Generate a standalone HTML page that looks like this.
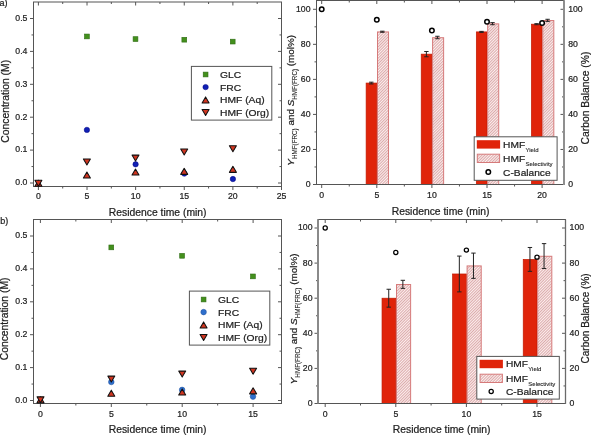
<!DOCTYPE html><html><head><meta charset="utf-8"><style>html,body{margin:0;padding:0;background:#fff;}svg{display:block;will-change:transform;} text{font-family:"Liberation Sans",sans-serif;fill:#222;stroke:#222;stroke-width:0.22px;}</style></head><body>
<svg width="591" height="435" viewBox="0 0 591 435">
<defs><pattern id="hatch" patternUnits="userSpaceOnUse" width="2" height="2" patternTransform="rotate(45)"><rect width="2" height="2" fill="#fdeeee"/><rect width="0.75" height="2" fill="#d09696"/></pattern></defs>
<rect width="591" height="435" fill="#fff"/>
<line x1="38.4" y1="186.5" x2="38.4" y2="190" stroke="#555" stroke-width="1.0"/>
<line x1="38.4" y1="2" x2="38.4" y2="5.5" stroke="#555" stroke-width="1.0"/>
<line x1="87.02" y1="186.5" x2="87.02" y2="190" stroke="#555" stroke-width="1.0"/>
<line x1="87.02" y1="2" x2="87.02" y2="5.5" stroke="#555" stroke-width="1.0"/>
<line x1="135.64" y1="186.5" x2="135.64" y2="190" stroke="#555" stroke-width="1.0"/>
<line x1="135.64" y1="2" x2="135.64" y2="5.5" stroke="#555" stroke-width="1.0"/>
<line x1="184.26" y1="186.5" x2="184.26" y2="190" stroke="#555" stroke-width="1.0"/>
<line x1="184.26" y1="2" x2="184.26" y2="5.5" stroke="#555" stroke-width="1.0"/>
<line x1="232.88" y1="186.5" x2="232.88" y2="190" stroke="#555" stroke-width="1.0"/>
<line x1="232.88" y1="2" x2="232.88" y2="5.5" stroke="#555" stroke-width="1.0"/>
<line x1="281.5" y1="186.5" x2="281.5" y2="190" stroke="#555" stroke-width="1.0"/>
<line x1="281.5" y1="2" x2="281.5" y2="5.5" stroke="#555" stroke-width="1.0"/>
<line x1="62.71" y1="186.5" x2="62.71" y2="188.5" stroke="#555" stroke-width="1.0"/>
<line x1="62.71" y1="2" x2="62.71" y2="4" stroke="#555" stroke-width="1.0"/>
<line x1="111.33" y1="186.5" x2="111.33" y2="188.5" stroke="#555" stroke-width="1.0"/>
<line x1="111.33" y1="2" x2="111.33" y2="4" stroke="#555" stroke-width="1.0"/>
<line x1="159.95" y1="186.5" x2="159.95" y2="188.5" stroke="#555" stroke-width="1.0"/>
<line x1="159.95" y1="2" x2="159.95" y2="4" stroke="#555" stroke-width="1.0"/>
<line x1="208.57" y1="186.5" x2="208.57" y2="188.5" stroke="#555" stroke-width="1.0"/>
<line x1="208.57" y1="2" x2="208.57" y2="4" stroke="#555" stroke-width="1.0"/>
<line x1="257.19" y1="186.5" x2="257.19" y2="188.5" stroke="#555" stroke-width="1.0"/>
<line x1="257.19" y1="2" x2="257.19" y2="4" stroke="#555" stroke-width="1.0"/>
<line x1="30" y1="183" x2="33.5" y2="183" stroke="#555" stroke-width="1.0"/>
<line x1="278" y1="183" x2="281.5" y2="183" stroke="#555" stroke-width="1.0"/>
<line x1="30" y1="150.1" x2="33.5" y2="150.1" stroke="#555" stroke-width="1.0"/>
<line x1="278" y1="150.1" x2="281.5" y2="150.1" stroke="#555" stroke-width="1.0"/>
<line x1="30" y1="117.2" x2="33.5" y2="117.2" stroke="#555" stroke-width="1.0"/>
<line x1="278" y1="117.2" x2="281.5" y2="117.2" stroke="#555" stroke-width="1.0"/>
<line x1="30" y1="84.3" x2="33.5" y2="84.3" stroke="#555" stroke-width="1.0"/>
<line x1="278" y1="84.3" x2="281.5" y2="84.3" stroke="#555" stroke-width="1.0"/>
<line x1="30" y1="51.4" x2="33.5" y2="51.4" stroke="#555" stroke-width="1.0"/>
<line x1="278" y1="51.4" x2="281.5" y2="51.4" stroke="#555" stroke-width="1.0"/>
<line x1="30" y1="18.5" x2="33.5" y2="18.5" stroke="#555" stroke-width="1.0"/>
<line x1="278" y1="18.5" x2="281.5" y2="18.5" stroke="#555" stroke-width="1.0"/>
<line x1="31.5" y1="166.55" x2="33.5" y2="166.55" stroke="#555" stroke-width="1.0"/>
<line x1="279.5" y1="166.55" x2="281.5" y2="166.55" stroke="#555" stroke-width="1.0"/>
<line x1="31.5" y1="133.65" x2="33.5" y2="133.65" stroke="#555" stroke-width="1.0"/>
<line x1="279.5" y1="133.65" x2="281.5" y2="133.65" stroke="#555" stroke-width="1.0"/>
<line x1="31.5" y1="100.75" x2="33.5" y2="100.75" stroke="#555" stroke-width="1.0"/>
<line x1="279.5" y1="100.75" x2="281.5" y2="100.75" stroke="#555" stroke-width="1.0"/>
<line x1="31.5" y1="67.85" x2="33.5" y2="67.85" stroke="#555" stroke-width="1.0"/>
<line x1="279.5" y1="67.85" x2="281.5" y2="67.85" stroke="#555" stroke-width="1.0"/>
<line x1="31.5" y1="34.95" x2="33.5" y2="34.95" stroke="#555" stroke-width="1.0"/>
<line x1="279.5" y1="34.95" x2="281.5" y2="34.95" stroke="#555" stroke-width="1.0"/>
<rect x="33.5" y="2" width="248" height="184.5" fill="none" stroke="#555" stroke-width="1"/>
<text x="38.4" y="198.7" font-size="8.7" text-anchor="middle" >0</text>
<text x="87.02" y="198.7" font-size="8.7" text-anchor="middle" >5</text>
<text x="135.64" y="198.7" font-size="8.7" text-anchor="middle" >10</text>
<text x="184.26" y="198.7" font-size="8.7" text-anchor="middle" >15</text>
<text x="232.88" y="198.7" font-size="8.7" text-anchor="middle" >20</text>
<text x="281.5" y="198.7" font-size="8.7" text-anchor="middle" >25</text>
<text x="27.4" y="185.3" font-size="8.7" text-anchor="end" >0.0</text>
<text x="27.4" y="152.4" font-size="8.7" text-anchor="end" >0.1</text>
<text x="27.4" y="119.5" font-size="8.7" text-anchor="end" >0.2</text>
<text x="27.4" y="86.6" font-size="8.7" text-anchor="end" >0.3</text>
<text x="27.4" y="53.7" font-size="8.7" text-anchor="end" >0.4</text>
<text x="27.4" y="20.8" font-size="8.7" text-anchor="end" >0.5</text>
<rect x="84.5" y="34.05" width="4.8" height="4.8" fill="#43901c" stroke="#2f6c14" stroke-width="0.6"/>
<rect x="133.1" y="36.7" width="4.8" height="4.8" fill="#43901c" stroke="#2f6c14" stroke-width="0.6"/>
<rect x="181.9" y="37.3" width="4.8" height="4.8" fill="#43901c" stroke="#2f6c14" stroke-width="0.6"/>
<rect x="230.3" y="39.2" width="4.8" height="4.8" fill="#43901c" stroke="#2f6c14" stroke-width="0.6"/>
<circle cx="86.9" cy="129.9" r="2.7" fill="#1020b4" stroke="#000080" stroke-width="0.5"/>
<circle cx="135.6" cy="164.3" r="2.7" fill="#1020b4" stroke="#000080" stroke-width="0.5"/>
<circle cx="184.3" cy="173.6" r="2.7" fill="#1020b4" stroke="#000080" stroke-width="0.5"/>
<circle cx="232.9" cy="179.05" r="2.7" fill="#1020b4" stroke="#000080" stroke-width="0.5"/>
<path d="M38.4 180.2 L41.9 186.2 L34.9 186.2 Z" fill="#d03520" stroke="#111" stroke-width="1.05" stroke-linejoin="round"/>
<path d="M86.9 171.95 L90.4 177.95 L83.4 177.95 Z" fill="#d03520" stroke="#111" stroke-width="1.05" stroke-linejoin="round"/>
<path d="M135.5 169.05 L139 175.05 L132 175.05 Z" fill="#d03520" stroke="#111" stroke-width="1.05" stroke-linejoin="round"/>
<path d="M184.2 168.35 L187.7 174.35 L180.7 174.35 Z" fill="#d03520" stroke="#111" stroke-width="1.05" stroke-linejoin="round"/>
<path d="M232.9 166.35 L236.4 172.35 L229.4 172.35 Z" fill="#d03520" stroke="#111" stroke-width="1.05" stroke-linejoin="round"/>
<path d="M34.9 180.2 L41.9 180.2 L38.4 186.2 Z" fill="#d03520" stroke="#111" stroke-width="1.05" stroke-linejoin="round"/>
<path d="M83.4 158.95 L90.4 158.95 L86.9 164.95 Z" fill="#d03520" stroke="#111" stroke-width="1.05" stroke-linejoin="round"/>
<path d="M132 155.1 L139 155.1 L135.5 161.1 Z" fill="#d03520" stroke="#111" stroke-width="1.05" stroke-linejoin="round"/>
<path d="M180.7 149.05 L187.7 149.05 L184.2 155.05 Z" fill="#d03520" stroke="#111" stroke-width="1.05" stroke-linejoin="round"/>
<path d="M229.4 145.8 L236.4 145.8 L232.9 151.8 Z" fill="#d03520" stroke="#111" stroke-width="1.05" stroke-linejoin="round"/>
<rect x="191.4" y="66.4" width="80.4" height="53.7" fill="#fff" stroke="#555" stroke-width="1"/>
<rect x="203.2" y="72.1" width="4.8" height="4.8" fill="#43901c" stroke="#2f6c14" stroke-width="0.6"/>
<circle cx="205.6" cy="87.1" r="2.7" fill="#1020b4" stroke="#000080" stroke-width="0.5"/>
<path d="M205.6 96.9 L209.1 102.9 L202.1 102.9 Z" fill="#d03520" stroke="#111" stroke-width="1.05" stroke-linejoin="round"/>
<path d="M202.1 109.5 L209.1 109.5 L205.6 115.5 Z" fill="#d03520" stroke="#111" stroke-width="1.05" stroke-linejoin="round"/>
<text transform="translate(220.0,77.9) scale(1.062,1)" font-size="9.7">GLC</text>
<text transform="translate(220.0,90.5) scale(1.062,1)" font-size="9.7">FRC</text>
<text transform="translate(220.0,103.3) scale(1.062,1)" font-size="9.7">HMF (Aq)</text>
<text transform="translate(220.0,115.9) scale(1.062,1)" font-size="9.7">HMF (Org)</text>
<text x="157.7" y="215.9" font-size="10.35" text-anchor="middle" >Residence time (min)</text>
<text transform="translate(8.9,101.3) rotate(-90)" x="0" y="0" font-size="10.35" text-anchor="middle">Concentration (M)</text>
<text x="-0.5" y="6.4" font-size="9.0" text-anchor="start" >a)</text>
<rect x="366.13" y="83.06" width="10.67" height="101.44" fill="#e0240a" stroke="#c01a00" stroke-width="0.7"/>
<rect x="377.5" y="31.93" width="11.02" height="152.57" fill="url(#hatch)" stroke="#d67a7a" stroke-width="1"/>
<rect x="421.23" y="54.15" width="10.67" height="130.35" fill="#e0240a" stroke="#c01a00" stroke-width="0.7"/>
<rect x="432.6" y="37.71" width="11.02" height="146.79" fill="url(#hatch)" stroke="#d67a7a" stroke-width="1"/>
<rect x="476.33" y="31.9" width="10.67" height="152.6" fill="#e0240a" stroke="#c01a00" stroke-width="0.7"/>
<rect x="487.7" y="23.87" width="11.02" height="160.63" fill="url(#hatch)" stroke="#d67a7a" stroke-width="1"/>
<rect x="531.43" y="24.19" width="10.67" height="160.31" fill="#e0240a" stroke="#c01a00" stroke-width="0.7"/>
<rect x="542.8" y="20.54" width="11.02" height="163.96" fill="url(#hatch)" stroke="#d67a7a" stroke-width="1"/>
<line x1="371.29" y1="82.18" x2="371.29" y2="83.94" stroke="#222" stroke-width="1"/>
<line x1="369.09" y1="82.18" x2="373.49" y2="82.18" stroke="#222" stroke-width="1"/>
<line x1="369.09" y1="83.94" x2="373.49" y2="83.94" stroke="#222" stroke-width="1"/>
<line x1="382.31" y1="31.2" x2="382.31" y2="32.25" stroke="#222" stroke-width="1"/>
<line x1="380.11" y1="31.2" x2="384.51" y2="31.2" stroke="#222" stroke-width="1"/>
<line x1="380.11" y1="32.25" x2="384.51" y2="32.25" stroke="#222" stroke-width="1"/>
<line x1="426.39" y1="51.52" x2="426.39" y2="56.78" stroke="#222" stroke-width="1"/>
<line x1="424.19" y1="51.52" x2="428.59" y2="51.52" stroke="#222" stroke-width="1"/>
<line x1="424.19" y1="56.78" x2="428.59" y2="56.78" stroke="#222" stroke-width="1"/>
<line x1="437.41" y1="36.28" x2="437.41" y2="38.73" stroke="#222" stroke-width="1"/>
<line x1="435.21" y1="36.28" x2="439.61" y2="36.28" stroke="#222" stroke-width="1"/>
<line x1="435.21" y1="38.73" x2="439.61" y2="38.73" stroke="#222" stroke-width="1"/>
<line x1="481.49" y1="31.38" x2="481.49" y2="32.43" stroke="#222" stroke-width="1"/>
<line x1="479.29" y1="31.38" x2="483.69" y2="31.38" stroke="#222" stroke-width="1"/>
<line x1="479.29" y1="32.43" x2="483.69" y2="32.43" stroke="#222" stroke-width="1"/>
<line x1="492.51" y1="22.62" x2="492.51" y2="24.72" stroke="#222" stroke-width="1"/>
<line x1="490.31" y1="22.62" x2="494.71" y2="22.62" stroke="#222" stroke-width="1"/>
<line x1="490.31" y1="24.72" x2="494.71" y2="24.72" stroke="#222" stroke-width="1"/>
<line x1="536.59" y1="23.67" x2="536.59" y2="24.72" stroke="#222" stroke-width="1"/>
<line x1="534.39" y1="23.67" x2="538.79" y2="23.67" stroke="#222" stroke-width="1"/>
<line x1="534.39" y1="24.72" x2="538.79" y2="24.72" stroke="#222" stroke-width="1"/>
<line x1="547.61" y1="19.29" x2="547.61" y2="21.39" stroke="#222" stroke-width="1"/>
<line x1="545.41" y1="19.29" x2="549.81" y2="19.29" stroke="#222" stroke-width="1"/>
<line x1="545.41" y1="21.39" x2="549.81" y2="21.39" stroke="#222" stroke-width="1"/>
<circle cx="321.7" cy="9.3" r="2.25" fill="#fff" stroke="#000" stroke-width="1.5"/>
<circle cx="376.8" cy="19.81" r="2.25" fill="#fff" stroke="#000" stroke-width="1.5"/>
<circle cx="431.9" cy="30.5" r="2.25" fill="#fff" stroke="#000" stroke-width="1.5"/>
<circle cx="487" cy="21.74" r="2.25" fill="#fff" stroke="#000" stroke-width="1.5"/>
<circle cx="542.1" cy="22.97" r="2.25" fill="#fff" stroke="#000" stroke-width="1.5"/>
<line x1="321.7" y1="184.5" x2="321.7" y2="188" stroke="#555" stroke-width="1.0"/>
<line x1="321.7" y1="0.5" x2="321.7" y2="4" stroke="#555" stroke-width="1.0"/>
<line x1="376.8" y1="184.5" x2="376.8" y2="188" stroke="#555" stroke-width="1.0"/>
<line x1="376.8" y1="0.5" x2="376.8" y2="4" stroke="#555" stroke-width="1.0"/>
<line x1="431.9" y1="184.5" x2="431.9" y2="188" stroke="#555" stroke-width="1.0"/>
<line x1="431.9" y1="0.5" x2="431.9" y2="4" stroke="#555" stroke-width="1.0"/>
<line x1="487" y1="184.5" x2="487" y2="188" stroke="#555" stroke-width="1.0"/>
<line x1="487" y1="0.5" x2="487" y2="4" stroke="#555" stroke-width="1.0"/>
<line x1="542.1" y1="184.5" x2="542.1" y2="188" stroke="#555" stroke-width="1.0"/>
<line x1="542.1" y1="0.5" x2="542.1" y2="4" stroke="#555" stroke-width="1.0"/>
<line x1="349.25" y1="184.5" x2="349.25" y2="186.5" stroke="#555" stroke-width="1.0"/>
<line x1="349.25" y1="0.5" x2="349.25" y2="2.5" stroke="#555" stroke-width="1.0"/>
<line x1="404.35" y1="184.5" x2="404.35" y2="186.5" stroke="#555" stroke-width="1.0"/>
<line x1="404.35" y1="0.5" x2="404.35" y2="2.5" stroke="#555" stroke-width="1.0"/>
<line x1="459.45" y1="184.5" x2="459.45" y2="186.5" stroke="#555" stroke-width="1.0"/>
<line x1="459.45" y1="0.5" x2="459.45" y2="2.5" stroke="#555" stroke-width="1.0"/>
<line x1="514.55" y1="184.5" x2="514.55" y2="186.5" stroke="#555" stroke-width="1.0"/>
<line x1="514.55" y1="0.5" x2="514.55" y2="2.5" stroke="#555" stroke-width="1.0"/>
<line x1="313" y1="184.5" x2="316.5" y2="184.5" stroke="#555" stroke-width="1.0"/>
<line x1="560.5" y1="184.5" x2="564" y2="184.5" stroke="#555" stroke-width="1.0"/>
<line x1="313" y1="149.46" x2="316.5" y2="149.46" stroke="#555" stroke-width="1.0"/>
<line x1="560.5" y1="149.46" x2="564" y2="149.46" stroke="#555" stroke-width="1.0"/>
<line x1="313" y1="114.42" x2="316.5" y2="114.42" stroke="#555" stroke-width="1.0"/>
<line x1="560.5" y1="114.42" x2="564" y2="114.42" stroke="#555" stroke-width="1.0"/>
<line x1="313" y1="79.38" x2="316.5" y2="79.38" stroke="#555" stroke-width="1.0"/>
<line x1="560.5" y1="79.38" x2="564" y2="79.38" stroke="#555" stroke-width="1.0"/>
<line x1="313" y1="44.34" x2="316.5" y2="44.34" stroke="#555" stroke-width="1.0"/>
<line x1="560.5" y1="44.34" x2="564" y2="44.34" stroke="#555" stroke-width="1.0"/>
<line x1="313" y1="9.3" x2="316.5" y2="9.3" stroke="#555" stroke-width="1.0"/>
<line x1="560.5" y1="9.3" x2="564" y2="9.3" stroke="#555" stroke-width="1.0"/>
<line x1="314.5" y1="166.98" x2="316.5" y2="166.98" stroke="#555" stroke-width="1.0"/>
<line x1="562" y1="166.98" x2="564" y2="166.98" stroke="#555" stroke-width="1.0"/>
<line x1="314.5" y1="131.94" x2="316.5" y2="131.94" stroke="#555" stroke-width="1.0"/>
<line x1="562" y1="131.94" x2="564" y2="131.94" stroke="#555" stroke-width="1.0"/>
<line x1="314.5" y1="96.9" x2="316.5" y2="96.9" stroke="#555" stroke-width="1.0"/>
<line x1="562" y1="96.9" x2="564" y2="96.9" stroke="#555" stroke-width="1.0"/>
<line x1="314.5" y1="61.86" x2="316.5" y2="61.86" stroke="#555" stroke-width="1.0"/>
<line x1="562" y1="61.86" x2="564" y2="61.86" stroke="#555" stroke-width="1.0"/>
<line x1="314.5" y1="26.82" x2="316.5" y2="26.82" stroke="#555" stroke-width="1.0"/>
<line x1="562" y1="26.82" x2="564" y2="26.82" stroke="#555" stroke-width="1.0"/>
<rect x="316.5" y="0.5" width="247.5" height="184" fill="none" stroke="#555" stroke-width="1"/>
<line x1="564" y1="0.5" x2="564" y2="185" stroke="#8f8f8f" stroke-width="2.0"/>
<text x="321.7" y="198" font-size="8.7" text-anchor="middle" >0</text>
<text x="376.8" y="198" font-size="8.7" text-anchor="middle" >5</text>
<text x="431.9" y="198" font-size="8.7" text-anchor="middle" >10</text>
<text x="487" y="198" font-size="8.7" text-anchor="middle" >15</text>
<text x="542.1" y="198" font-size="8.7" text-anchor="middle" >20</text>
<text x="310.5" y="187.1" font-size="8.7" text-anchor="end" >0</text>
<text x="310.5" y="152.06" font-size="8.7" text-anchor="end" >20</text>
<text x="310.5" y="117.02" font-size="8.7" text-anchor="end" >40</text>
<text x="310.5" y="81.98" font-size="8.7" text-anchor="end" >60</text>
<text x="310.5" y="46.94" font-size="8.7" text-anchor="end" >80</text>
<text x="310.5" y="11.9" font-size="8.7" text-anchor="end" >100</text>
<text x="568.2" y="187.1" font-size="8.7" text-anchor="start" >0</text>
<text x="568.2" y="152.06" font-size="8.7" text-anchor="start" >20</text>
<text x="568.2" y="117.02" font-size="8.7" text-anchor="start" >40</text>
<text x="568.2" y="81.98" font-size="8.7" text-anchor="start" >60</text>
<text x="568.2" y="46.94" font-size="8.7" text-anchor="start" >80</text>
<text x="568.2" y="11.9" font-size="8.7" text-anchor="start" >100</text>
<rect x="474.2" y="136.8" width="82.9" height="43.5" fill="#fff" stroke="#555" stroke-width="1"/>
<rect x="476.8" y="140.2" width="23.3" height="8.4" fill="#e0240a"/>
<rect x="477.3" y="154.2" width="22.3" height="8.3" fill="url(#hatch)" stroke="#d67a7a" stroke-width="1"/>
<circle cx="488.3" cy="172" r="2.25" fill="#fff" stroke="#000" stroke-width="1.5"/>
<text transform="translate(503.1,148.1) scale(1.04,1)" font-size="9.8">HMF<tspan font-size="5.8" dx="0.3" dy="3.8" style="stroke-width:0.1px">Yield</tspan></text>
<text transform="translate(503.1,161.7) scale(1.04,1)" font-size="9.8">HMF<tspan font-size="5.8" dx="0.3" dy="3.9" style="stroke-width:0.1px">Selectivity</tspan></text>
<text transform="translate(503.1,175.6) scale(1.04,1)" font-size="9.8">C-Balance</text>
<text x="440.6" y="214.7" font-size="10.35" text-anchor="middle" >Residence time (min)</text>
<text transform="translate(293.6,100.3) rotate(-90)" x="0" y="0" font-size="9.9" text-anchor="middle"><tspan font-style="italic">Y</tspan><tspan font-size="6.3" dy="3.2" style="stroke-width:0.1px">HMF(FRC)</tspan><tspan dy="-3.2"> and </tspan><tspan font-style="italic">S</tspan><tspan font-size="6.3" dy="3.2" style="stroke-width:0.1px">HMF(FRC)</tspan><tspan dy="-3.2"> (mol%)</tspan></text>
<text transform="translate(588.6,98.05) rotate(-90)" x="0" y="0" font-size="10.3" text-anchor="middle">Carbon Balance (%)</text>
<line x1="40.4" y1="403.5" x2="40.4" y2="407" stroke="#555" stroke-width="1.0"/>
<line x1="40.4" y1="219.5" x2="40.4" y2="223" stroke="#555" stroke-width="1.0"/>
<line x1="111.3" y1="403.5" x2="111.3" y2="407" stroke="#555" stroke-width="1.0"/>
<line x1="111.3" y1="219.5" x2="111.3" y2="223" stroke="#555" stroke-width="1.0"/>
<line x1="182.2" y1="403.5" x2="182.2" y2="407" stroke="#555" stroke-width="1.0"/>
<line x1="182.2" y1="219.5" x2="182.2" y2="223" stroke="#555" stroke-width="1.0"/>
<line x1="253.1" y1="403.5" x2="253.1" y2="407" stroke="#555" stroke-width="1.0"/>
<line x1="253.1" y1="219.5" x2="253.1" y2="223" stroke="#555" stroke-width="1.0"/>
<line x1="75.85" y1="403.5" x2="75.85" y2="405.5" stroke="#555" stroke-width="1.0"/>
<line x1="75.85" y1="219.5" x2="75.85" y2="221.5" stroke="#555" stroke-width="1.0"/>
<line x1="146.75" y1="403.5" x2="146.75" y2="405.5" stroke="#555" stroke-width="1.0"/>
<line x1="146.75" y1="219.5" x2="146.75" y2="221.5" stroke="#555" stroke-width="1.0"/>
<line x1="217.65" y1="403.5" x2="217.65" y2="405.5" stroke="#555" stroke-width="1.0"/>
<line x1="217.65" y1="219.5" x2="217.65" y2="221.5" stroke="#555" stroke-width="1.0"/>
<line x1="30" y1="400.5" x2="33.5" y2="400.5" stroke="#555" stroke-width="1.0"/>
<line x1="278" y1="400.5" x2="281.5" y2="400.5" stroke="#555" stroke-width="1.0"/>
<line x1="30" y1="367.6" x2="33.5" y2="367.6" stroke="#555" stroke-width="1.0"/>
<line x1="278" y1="367.6" x2="281.5" y2="367.6" stroke="#555" stroke-width="1.0"/>
<line x1="30" y1="334.7" x2="33.5" y2="334.7" stroke="#555" stroke-width="1.0"/>
<line x1="278" y1="334.7" x2="281.5" y2="334.7" stroke="#555" stroke-width="1.0"/>
<line x1="30" y1="301.8" x2="33.5" y2="301.8" stroke="#555" stroke-width="1.0"/>
<line x1="278" y1="301.8" x2="281.5" y2="301.8" stroke="#555" stroke-width="1.0"/>
<line x1="30" y1="268.9" x2="33.5" y2="268.9" stroke="#555" stroke-width="1.0"/>
<line x1="278" y1="268.9" x2="281.5" y2="268.9" stroke="#555" stroke-width="1.0"/>
<line x1="30" y1="236" x2="33.5" y2="236" stroke="#555" stroke-width="1.0"/>
<line x1="278" y1="236" x2="281.5" y2="236" stroke="#555" stroke-width="1.0"/>
<line x1="31.5" y1="384.05" x2="33.5" y2="384.05" stroke="#555" stroke-width="1.0"/>
<line x1="279.5" y1="384.05" x2="281.5" y2="384.05" stroke="#555" stroke-width="1.0"/>
<line x1="31.5" y1="351.15" x2="33.5" y2="351.15" stroke="#555" stroke-width="1.0"/>
<line x1="279.5" y1="351.15" x2="281.5" y2="351.15" stroke="#555" stroke-width="1.0"/>
<line x1="31.5" y1="318.25" x2="33.5" y2="318.25" stroke="#555" stroke-width="1.0"/>
<line x1="279.5" y1="318.25" x2="281.5" y2="318.25" stroke="#555" stroke-width="1.0"/>
<line x1="31.5" y1="285.35" x2="33.5" y2="285.35" stroke="#555" stroke-width="1.0"/>
<line x1="279.5" y1="285.35" x2="281.5" y2="285.35" stroke="#555" stroke-width="1.0"/>
<line x1="31.5" y1="252.45" x2="33.5" y2="252.45" stroke="#555" stroke-width="1.0"/>
<line x1="279.5" y1="252.45" x2="281.5" y2="252.45" stroke="#555" stroke-width="1.0"/>
<rect x="33.5" y="219.5" width="248" height="184" fill="none" stroke="#555" stroke-width="1"/>
<text x="40.4" y="416.6" font-size="8.7" text-anchor="middle" >0</text>
<text x="111.3" y="416.6" font-size="8.7" text-anchor="middle" >5</text>
<text x="182.2" y="416.6" font-size="8.7" text-anchor="middle" >10</text>
<text x="253.1" y="416.6" font-size="8.7" text-anchor="middle" >15</text>
<text x="27.4" y="402.8" font-size="8.7" text-anchor="end" >0.0</text>
<text x="27.4" y="369.9" font-size="8.7" text-anchor="end" >0.1</text>
<text x="27.4" y="337" font-size="8.7" text-anchor="end" >0.2</text>
<text x="27.4" y="304.1" font-size="8.7" text-anchor="end" >0.3</text>
<text x="27.4" y="271.2" font-size="8.7" text-anchor="end" >0.4</text>
<text x="27.4" y="238.3" font-size="8.7" text-anchor="end" >0.5</text>
<rect x="108.9" y="245" width="4.8" height="4.8" fill="#43901c" stroke="#2f6c14" stroke-width="0.6"/>
<rect x="179.7" y="253.4" width="4.8" height="4.8" fill="#43901c" stroke="#2f6c14" stroke-width="0.6"/>
<rect x="250.5" y="274" width="4.8" height="4.8" fill="#43901c" stroke="#2f6c14" stroke-width="0.6"/>
<circle cx="111.3" cy="382" r="2.8" fill="#2e6fcc" stroke="#1f4f9a" stroke-width="0.5"/>
<circle cx="182.1" cy="389.9" r="2.8" fill="#2e6fcc" stroke="#1f4f9a" stroke-width="0.5"/>
<circle cx="253" cy="396.6" r="2.8" fill="#2e6fcc" stroke="#1f4f9a" stroke-width="0.5"/>
<path d="M40.5 396.85 L44 402.85 L37 402.85 Z" fill="#d03520" stroke="#111" stroke-width="1.05" stroke-linejoin="round"/>
<path d="M111.3 390.15 L114.8 396.15 L107.8 396.15 Z" fill="#d03520" stroke="#111" stroke-width="1.05" stroke-linejoin="round"/>
<path d="M182.2 388.9 L185.7 394.9 L178.7 394.9 Z" fill="#d03520" stroke="#111" stroke-width="1.05" stroke-linejoin="round"/>
<path d="M253.1 387.85 L256.6 393.85 L249.6 393.85 Z" fill="#d03520" stroke="#111" stroke-width="1.05" stroke-linejoin="round"/>
<path d="M37 396.85 L44 396.85 L40.5 402.85 Z" fill="#d03520" stroke="#111" stroke-width="1.05" stroke-linejoin="round"/>
<path d="M107.8 376.1 L114.8 376.1 L111.3 382.1 Z" fill="#d03520" stroke="#111" stroke-width="1.05" stroke-linejoin="round"/>
<path d="M178.7 371.1 L185.7 371.1 L182.2 377.1 Z" fill="#d03520" stroke="#111" stroke-width="1.05" stroke-linejoin="round"/>
<path d="M249.6 368.15 L256.6 368.15 L253.1 374.15 Z" fill="#d03520" stroke="#111" stroke-width="1.05" stroke-linejoin="round"/>
<rect x="189.4" y="291.1" width="80.4" height="54" fill="#fff" stroke="#555" stroke-width="1"/>
<rect x="201.2" y="297.1" width="4.8" height="4.8" fill="#43901c" stroke="#2f6c14" stroke-width="0.6"/>
<circle cx="203.6" cy="312.1" r="2.8" fill="#2e6fcc" stroke="#1f4f9a" stroke-width="0.5"/>
<path d="M203.6 321.9 L207.1 327.9 L200.1 327.9 Z" fill="#d03520" stroke="#111" stroke-width="1.05" stroke-linejoin="round"/>
<path d="M200.1 334.5 L207.1 334.5 L203.6 340.5 Z" fill="#d03520" stroke="#111" stroke-width="1.05" stroke-linejoin="round"/>
<text transform="translate(218.0,302.9) scale(1.062,1)" font-size="9.7">GLC</text>
<text transform="translate(218.0,315.5) scale(1.062,1)" font-size="9.7">FRC</text>
<text transform="translate(218.0,328.3) scale(1.062,1)" font-size="9.7">HMF (Aq)</text>
<text transform="translate(218.0,340.9) scale(1.062,1)" font-size="9.7">HMF (Org)</text>
<text x="157.6" y="432.8" font-size="10.35" text-anchor="middle" >Residence time (min)</text>
<text transform="translate(8.1,318.9) rotate(-90)" x="0" y="0" font-size="10.35" text-anchor="middle">Concentration (M)</text>
<text x="0.3" y="224" font-size="9.0" text-anchor="start" >b)</text>
<rect x="382.03" y="298.2" width="13.77" height="105.3" fill="#e0240a" stroke="#c01a00" stroke-width="0.7"/>
<rect x="396.5" y="284.54" width="14.12" height="118.96" fill="url(#hatch)" stroke="#d67a7a" stroke-width="1"/>
<rect x="452.63" y="273.98" width="13.77" height="129.52" fill="#e0240a" stroke="#c01a00" stroke-width="0.7"/>
<rect x="467.1" y="265.93" width="14.12" height="137.57" fill="url(#hatch)" stroke="#d67a7a" stroke-width="1"/>
<rect x="523.23" y="259.41" width="13.77" height="144.09" fill="#e0240a" stroke="#c01a00" stroke-width="0.7"/>
<rect x="537.7" y="256.28" width="14.12" height="147.22" fill="url(#hatch)" stroke="#d67a7a" stroke-width="1"/>
<line x1="388.74" y1="289.25" x2="388.74" y2="307.15" stroke="#222" stroke-width="1"/>
<line x1="386.54" y1="289.25" x2="390.94" y2="289.25" stroke="#222" stroke-width="1"/>
<line x1="386.54" y1="307.15" x2="390.94" y2="307.15" stroke="#222" stroke-width="1"/>
<line x1="402.86" y1="280.3" x2="402.86" y2="288.37" stroke="#222" stroke-width="1"/>
<line x1="400.66" y1="280.3" x2="405.06" y2="280.3" stroke="#222" stroke-width="1"/>
<line x1="400.66" y1="288.37" x2="405.06" y2="288.37" stroke="#222" stroke-width="1"/>
<line x1="459.34" y1="256.08" x2="459.34" y2="291.88" stroke="#222" stroke-width="1"/>
<line x1="457.14" y1="256.08" x2="461.54" y2="256.08" stroke="#222" stroke-width="1"/>
<line x1="457.14" y1="291.88" x2="461.54" y2="291.88" stroke="#222" stroke-width="1"/>
<line x1="473.46" y1="253.1" x2="473.46" y2="278.37" stroke="#222" stroke-width="1"/>
<line x1="471.26" y1="253.1" x2="475.66" y2="253.1" stroke="#222" stroke-width="1"/>
<line x1="471.26" y1="278.37" x2="475.66" y2="278.37" stroke="#222" stroke-width="1"/>
<line x1="529.94" y1="247.48" x2="529.94" y2="271.35" stroke="#222" stroke-width="1"/>
<line x1="527.74" y1="247.48" x2="532.14" y2="247.48" stroke="#222" stroke-width="1"/>
<line x1="527.74" y1="271.35" x2="532.14" y2="271.35" stroke="#222" stroke-width="1"/>
<line x1="544.06" y1="243.62" x2="544.06" y2="268.54" stroke="#222" stroke-width="1"/>
<line x1="541.86" y1="243.62" x2="546.26" y2="243.62" stroke="#222" stroke-width="1"/>
<line x1="541.86" y1="268.54" x2="546.26" y2="268.54" stroke="#222" stroke-width="1"/>
<circle cx="325.2" cy="228" r="2.1" fill="#fff" stroke="#000" stroke-width="1.25"/>
<circle cx="395.8" cy="252.57" r="2.1" fill="#fff" stroke="#000" stroke-width="1.25"/>
<circle cx="466.4" cy="250.11" r="2.1" fill="#fff" stroke="#000" stroke-width="1.25"/>
<circle cx="537" cy="257.13" r="2.1" fill="#fff" stroke="#000" stroke-width="1.25"/>
<line x1="325.2" y1="403.5" x2="325.2" y2="407" stroke="#555" stroke-width="1.0"/>
<line x1="325.2" y1="219.5" x2="325.2" y2="223" stroke="#555" stroke-width="1.0"/>
<line x1="395.8" y1="403.5" x2="395.8" y2="407" stroke="#555" stroke-width="1.0"/>
<line x1="395.8" y1="219.5" x2="395.8" y2="223" stroke="#555" stroke-width="1.0"/>
<line x1="466.4" y1="403.5" x2="466.4" y2="407" stroke="#555" stroke-width="1.0"/>
<line x1="466.4" y1="219.5" x2="466.4" y2="223" stroke="#555" stroke-width="1.0"/>
<line x1="537" y1="403.5" x2="537" y2="407" stroke="#555" stroke-width="1.0"/>
<line x1="537" y1="219.5" x2="537" y2="223" stroke="#555" stroke-width="1.0"/>
<line x1="360.5" y1="403.5" x2="360.5" y2="405.5" stroke="#555" stroke-width="1.0"/>
<line x1="360.5" y1="219.5" x2="360.5" y2="221.5" stroke="#555" stroke-width="1.0"/>
<line x1="431.1" y1="403.5" x2="431.1" y2="405.5" stroke="#555" stroke-width="1.0"/>
<line x1="431.1" y1="219.5" x2="431.1" y2="221.5" stroke="#555" stroke-width="1.0"/>
<line x1="501.7" y1="403.5" x2="501.7" y2="405.5" stroke="#555" stroke-width="1.0"/>
<line x1="501.7" y1="219.5" x2="501.7" y2="221.5" stroke="#555" stroke-width="1.0"/>
<line x1="314.5" y1="403.5" x2="318" y2="403.5" stroke="#555" stroke-width="1.0"/>
<line x1="562" y1="403.5" x2="565.5" y2="403.5" stroke="#555" stroke-width="1.0"/>
<line x1="314.5" y1="368.4" x2="318" y2="368.4" stroke="#555" stroke-width="1.0"/>
<line x1="562" y1="368.4" x2="565.5" y2="368.4" stroke="#555" stroke-width="1.0"/>
<line x1="314.5" y1="333.3" x2="318" y2="333.3" stroke="#555" stroke-width="1.0"/>
<line x1="562" y1="333.3" x2="565.5" y2="333.3" stroke="#555" stroke-width="1.0"/>
<line x1="314.5" y1="298.2" x2="318" y2="298.2" stroke="#555" stroke-width="1.0"/>
<line x1="562" y1="298.2" x2="565.5" y2="298.2" stroke="#555" stroke-width="1.0"/>
<line x1="314.5" y1="263.1" x2="318" y2="263.1" stroke="#555" stroke-width="1.0"/>
<line x1="562" y1="263.1" x2="565.5" y2="263.1" stroke="#555" stroke-width="1.0"/>
<line x1="314.5" y1="228" x2="318" y2="228" stroke="#555" stroke-width="1.0"/>
<line x1="562" y1="228" x2="565.5" y2="228" stroke="#555" stroke-width="1.0"/>
<line x1="316" y1="385.95" x2="318" y2="385.95" stroke="#555" stroke-width="1.0"/>
<line x1="563.5" y1="385.95" x2="565.5" y2="385.95" stroke="#555" stroke-width="1.0"/>
<line x1="316" y1="350.85" x2="318" y2="350.85" stroke="#555" stroke-width="1.0"/>
<line x1="563.5" y1="350.85" x2="565.5" y2="350.85" stroke="#555" stroke-width="1.0"/>
<line x1="316" y1="315.75" x2="318" y2="315.75" stroke="#555" stroke-width="1.0"/>
<line x1="563.5" y1="315.75" x2="565.5" y2="315.75" stroke="#555" stroke-width="1.0"/>
<line x1="316" y1="280.65" x2="318" y2="280.65" stroke="#555" stroke-width="1.0"/>
<line x1="563.5" y1="280.65" x2="565.5" y2="280.65" stroke="#555" stroke-width="1.0"/>
<line x1="316" y1="245.55" x2="318" y2="245.55" stroke="#555" stroke-width="1.0"/>
<line x1="563.5" y1="245.55" x2="565.5" y2="245.55" stroke="#555" stroke-width="1.0"/>
<rect x="318" y="219.5" width="247.5" height="184" fill="none" stroke="#555" stroke-width="1"/>
<line x1="565.5" y1="219.5" x2="565.5" y2="404" stroke="#6a6a6a" stroke-width="1.3"/>
<line x1="318" y1="219.5" x2="318" y2="403.5" stroke="#8a8a8a" stroke-width="2.0"/>
<text x="325.2" y="416.5" font-size="8.7" text-anchor="middle" >0</text>
<text x="395.8" y="416.5" font-size="8.7" text-anchor="middle" >5</text>
<text x="466.4" y="416.5" font-size="8.7" text-anchor="middle" >10</text>
<text x="537" y="416.5" font-size="8.7" text-anchor="middle" >15</text>
<text x="312.5" y="405.9" font-size="8.7" text-anchor="end" >0</text>
<text x="312.5" y="370.8" font-size="8.7" text-anchor="end" >20</text>
<text x="312.5" y="335.7" font-size="8.7" text-anchor="end" >40</text>
<text x="312.5" y="300.6" font-size="8.7" text-anchor="end" >60</text>
<text x="312.5" y="265.5" font-size="8.7" text-anchor="end" >80</text>
<text x="312.5" y="230.4" font-size="8.7" text-anchor="end" >100</text>
<text x="569.6" y="405.9" font-size="8.7" text-anchor="start" >0</text>
<text x="569.6" y="370.8" font-size="8.7" text-anchor="start" >20</text>
<text x="569.6" y="335.7" font-size="8.7" text-anchor="start" >40</text>
<text x="569.6" y="300.6" font-size="8.7" text-anchor="start" >60</text>
<text x="569.6" y="265.5" font-size="8.7" text-anchor="start" >80</text>
<text x="569.6" y="230.4" font-size="8.7" text-anchor="start" >100</text>
<rect x="476.8" y="356.4" width="82.5" height="42.7" fill="#fff" stroke="#555" stroke-width="1"/>
<rect x="479.6" y="359.8" width="23.3" height="8.4" fill="#e0240a"/>
<rect x="480.1" y="374.2" width="22.3" height="8.3" fill="url(#hatch)" stroke="#d67a7a" stroke-width="1"/>
<circle cx="491.2" cy="391.5" r="2.1" fill="#fff" stroke="#000" stroke-width="1.25"/>
<text transform="translate(505.9,367.4) scale(1.04,1)" font-size="9.8">HMF<tspan font-size="5.8" dx="0.3" dy="3.8" style="stroke-width:0.1px">Yield</tspan></text>
<text transform="translate(505.9,381.7) scale(1.04,1)" font-size="9.8">HMF<tspan font-size="5.8" dx="0.3" dy="3.9" style="stroke-width:0.1px">Selectivity</tspan></text>
<text transform="translate(505.9,394.7) scale(1.04,1)" font-size="9.8">C-Balance</text>
<text x="441.7" y="432.6" font-size="10.35" text-anchor="middle" >Residence time (min)</text>
<text transform="translate(296.5,318.9) rotate(-90)" x="0" y="0" font-size="9.9" text-anchor="middle"><tspan font-style="italic">Y</tspan><tspan font-size="6.3" dy="3.2" style="stroke-width:0.1px">HMF(FRC)</tspan><tspan dy="-3.2"> and </tspan><tspan font-style="italic">S</tspan><tspan font-size="6.3" dy="3.2" style="stroke-width:0.1px">HMF(FRC)</tspan><tspan dy="-3.2"> (mol%)</tspan></text>
<text transform="translate(589.2,318.4) rotate(-90)" x="0" y="0" font-size="10" text-anchor="middle">Carbon Balance (%)</text>
</svg></body></html>
